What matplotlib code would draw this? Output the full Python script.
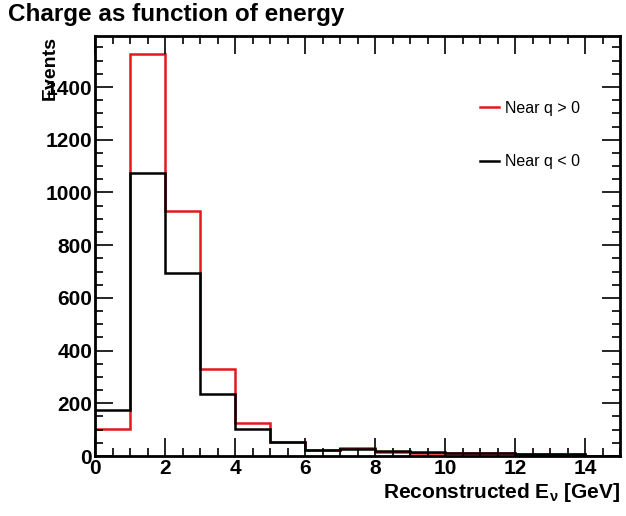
import numpy as np
import matplotlib.pyplot as plt
from matplotlib.ticker import MultipleLocator

plt.rcParams['font.family'] = ['Liberation Sans', 'DejaVu Sans']
plt.rcParams['mathtext.fontset'] = 'custom'
plt.rcParams['mathtext.rm'] = 'Liberation Sans:bold'

# reconstructed neutrino energy bins [GeV]
bin_edges = np.arange(0, 16, 1)
# events per bin, near detector, split by reconstructed charge
near_q_pos = [104, 1525, 931, 329, 125, 55, 23, 32, 16, 13, 12, 10, 9, 8, 0]
near_q_neg = [176, 1072, 694, 237, 102, 52, 23, 27, 18, 14, 10, 10, 9, 8, 0]

fig = plt.figure(figsize=(6.26, 5.16), dpi=100)
ax = fig.add_axes([95 / 626, 60 / 516, 525 / 626, 420 / 516])

ax.stairs(near_q_pos, bin_edges, baseline=None, color='#e3181c', lw=1.8,
          label='Near q > 0')
ax.stairs(near_q_neg, bin_edges, baseline=None, color='black', lw=1.8,
          label='Near q < 0')

ax.set_xlim(0, 15)
ax.set_ylim(0, 1.045 * max(near_q_pos))

ax.xaxis.set_major_locator(MultipleLocator(2))
ax.xaxis.set_minor_locator(MultipleLocator(0.5))
ax.yaxis.set_major_locator(MultipleLocator(200))
ax.yaxis.set_minor_locator(MultipleLocator(50))
ax.tick_params(which='both', direction='in', top=True, right=True, width=1.2)
ax.tick_params(which='major', length=13, labelsize=15, pad=2)
ax.tick_params(which='minor', length=6)
for lbl in ax.get_xticklabels() + ax.get_yticklabels():
    lbl.set_fontweight('bold')
for sp in ax.spines.values():
    sp.set_linewidth(2)

fig.text(620 / 626, 1 - 492 / 516, r'Reconstructed E$_{\mathrm{\nu}}$ [GeV]',
         ha='right', va='center', fontsize=15, fontweight='bold')
fig.text(50 / 626, 1 - 36 / 516, 'Events', rotation=90, ha='center', va='top',
         fontsize=14, fontweight='bold')
fig.text(8 / 626, 1 - 15 / 516, 'Charge as function of energy',
         ha='left', va='center', fontsize=17.5, fontweight='bold')

leg = ax.legend(loc='upper left', bbox_to_anchor=(0.705, 0.88), frameon=False,
                fontsize=11.5, handlelength=1.2, handletextpad=0.4,
                labelspacing=2.4)

fig.savefig('out.png', dpi=100)
